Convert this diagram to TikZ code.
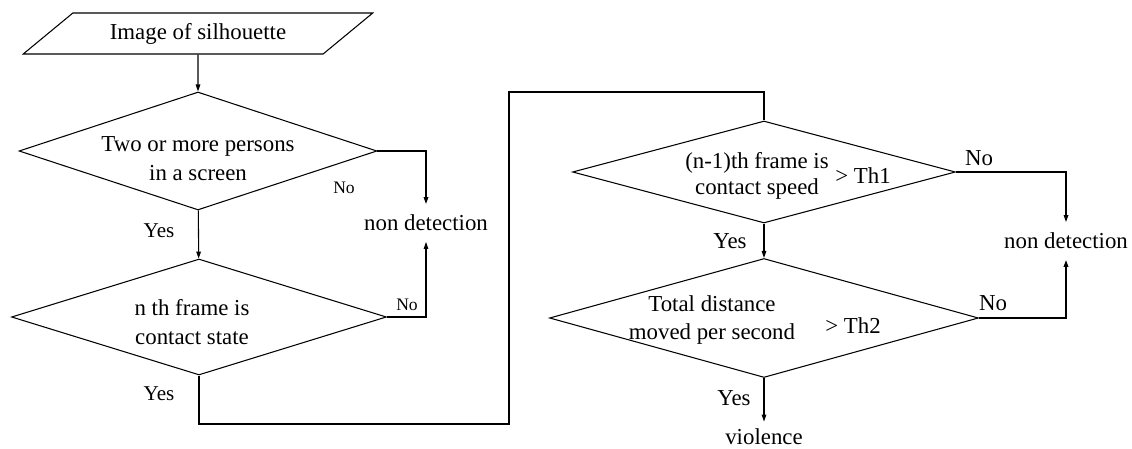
\documentclass[tikz,border=0pt]{standalone}
\usepackage{fontspec}
\setmainfont{Liberation Serif}
\usetikzlibrary{shapes.geometric, arrows.meta}
\tikzstyle{io} = [trapezium, trapezium left angle=31, trapezium right angle=149, trapezium stretches=true, minimum width=7cm, minimum height=0.82cm, inner sep=0pt, draw=black, line width=0.6pt, font=\fontsize{13}{16}\selectfont]
\tikzstyle{decision} = [diamond, inner sep=0pt, draw=black, line width=0.6pt]
\tikzstyle{txt} = [text centered, align=center, inner sep=1pt, font=\fontsize{13}{16.5}\selectfont]
\tikzstyle{yeslbl} = [inner sep=1pt, font=\fontsize{12}{14}\selectfont]
\tikzstyle{nolbl} = [inner sep=1pt, font=\fontsize{10}{12}\selectfont]
\tikzstyle{conn} = [line width=0.6pt]
\tikzstyle{arrow} = [line width=0.6pt,-{Triangle[length=4pt,width=2.6pt]}]

\begin{document}
\begin{tikzpicture}[x=0.02cm, y=-0.02cm]
		\useasboundingbox (0,0) rectangle (1132,449);
		% left column
		\node (input) [io] at (198,33.5) {Image of silhouette};
		\node (d1) [decision, minimum width=7.16cm, minimum height=2.36cm] at (198,151) {};
		\node (t1) [txt] at (198,159) {Two or more persons\\in a screen};
		\node (d2) [decision, minimum width=7.5cm, minimum height=2.32cm] at (199,317) {};
		\node (t2) [txt] at (192,322) {n th frame is\\contact state};
		\node (nd1) [txt, inner sep=6pt] at (426,223) {non detection};
		% right column
		\node (d3) [decision, minimum width=7.66cm, minimum height=2.04cm] at (764,172) {};
		\node (t3) [txt, font=\fontsize{13}{14.5}\selectfont] at (757,176) {(n-1)th frame is\\contact speed};
		\node (th1) [txt] at (863,176) {> Th1};
		\node (d4) [decision, minimum width=8.58cm, minimum height=2.38cm] at (764,318) {};
		\node (t4) [txt] at (712,320) {Total distance\\moved per second};
		\node (th2) [txt] at (853,326) {> Th2};
		\node (nd2) [txt, inner sep=6pt] at (1066,241) {non detection};
		\node (viol) [txt, inner sep=4pt] at (764,437) {violence};
		% yes / no
		\node (y1) [yeslbl] at (159,231) {Yes};
		\node (y2) [yeslbl] at (159,394) {Yes};
		\node (y3) [yeslbl, font=\fontsize{13}{15}\selectfont] at (730,241) {Yes};
		\node (y4) [yeslbl, font=\fontsize{13}{15}\selectfont] at (734,398) {Yes};
		\node (n1) [nolbl] at (344,188) {No};
		\node (n2) [nolbl] at (407,305) {No};
		\node (n3) [yeslbl, font=\fontsize{13}{15}\selectfont] at (979,158) {No};
		\node (n4) [yeslbl, font=\fontsize{13}{15}\selectfont] at (993,303) {No};
		\coordinate (bend1) at (509,424);
		\coordinate (bend2) at (509,92);

		\draw [arrow] (input) -- (d1);
		\draw [arrow] (d1) -- (d2);
		\draw [arrow, line width=0.8pt] (d1.east) -| (nd1.north);
		\draw [arrow] (d2.east) -| (nd1.south);
		\draw [conn] (d2.south) |- (bend1) -- (bend2) -| (d3.north);
		\draw [arrow] (d3) -- (d4);
		\draw [arrow, line width=0.8pt] (d3.east) -| (nd2.north);
		\draw [arrow, line width=0.9pt] (d4.east) -| (nd2.south);
		\draw [arrow] (d4) -- (viol);
\end{tikzpicture}
\end{document}
